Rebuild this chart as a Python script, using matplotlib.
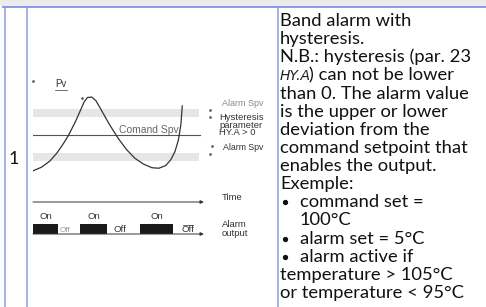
import matplotlib
matplotlib.use("Agg")
import matplotlib.pyplot as plt
from matplotlib.patches import Rectangle

# --- data -------------------------------------------------------------
# process value curve (time units 0..10, temperature-like units)
pv_time = [0.0, 0.5, 1.0, 1.4, 1.8, 2.1, 2.5, 2.8, 3.0, 3.2, 3.45, 3.7,
           4.0, 4.5, 5.0, 5.5, 6.0, 6.5, 7.0, 7.4, 7.8, 8.1, 8.35, 8.55,
           8.7, 8.78]
pv_value = [93.1, 93.8, 95.0, 96.5, 98.4, 100.0, 102.6, 104.8, 106.3, 107.2,
            107.3, 106.6, 104.9, 102.0, 99.4, 97.2, 95.5, 94.4, 93.7, 93.6,
            94.1, 95.2, 96.8, 99.0, 102.0, 105.6]
command_spv = 100
alarm_high = 105
alarm_low = 95
hysteresis = 1.6

# alarm output "on" intervals (start, end) in time units
alarm_on = [(0.0, 1.47), (2.76, 4.35), (6.29, 8.24)]
off_label_t = [1.85, 5.1, 9.1]

text_lines = [
    "Band alarm with",
    "hysteresis.",
    "N.B.: hysteresis (par. 23",
    None,  # HY.A line
    "than 0. The alarm value",
    "is the upper or lower",
    "deviation from the",
    "command setpoint that",
    "enables the output.",
    "Exemple:",
    "• command set =",
    "100°C",
    "• alarm set = 5°C",
    "• alarm active if",
    "temperature > 105°C",
    "or temperature < 95°C",
]

W, H = 486, 307
blue = "#8b9ddf"
fig = plt.figure(figsize=(W / 100, H / 100), dpi=100)

# page / table layer in pixel units
ax = fig.add_axes([0, 0, 1, 1])
ax.set_xlim(0, W)
ax.set_ylim(H, 0)
ax.axis("off")
ax.add_patch(Rectangle((0, 0), W, 6, color="#ececec", lw=0))
ax.plot([3, W], [6.5, 6.5], color=blue, lw=1.4)
for xv in [4.5, 26.5, 277.5]:
    ax.plot([xv, xv], [6.5, H], color=blue, lw=1.1)

ax.text(14, 159, "1", fontsize=13, ha="center", va="center",
        family="Lato", color="#111111")

# description column
tfont = dict(fontsize=13.2, family="Lato", color="#111111", va="baseline")
y0, dy = 26, 18.13
for i, line in enumerate(text_lines):
    y = y0 + dy * i
    if line is None:
        ax.text(280, y, "HY.A", style="italic", fontsize=10,
                family="DejaVu Sans", color="#222222", va="baseline")
        ax.text(309, y, ") can not be lower", **tfont)
    elif line.startswith("• "):
        ax.plot(285, y - 5, marker="o", ms=2.8, color="#111111")
        ax.text(300, y, line[2:], **tfont)
    elif line == "100°C":
        ax.text(300, y, line, **tfont)
    else:
        ax.text(280, y, line, **tfont)

# --- diagram: process value -------------------------------------------
px0, px1 = 33, 203
def fig_box(x0, x1, ytop, ybot):
    return [x0 / W, 1 - ybot / H, (x1 - x0) / W, (ybot - ytop) / H]

pv_ax = fig.add_axes(fig_box(px0, px1, 90, 175))
pv_ax.set_xlim(0, 10)
pv_ax.set_ylim(92.3, 108.65)
pv_ax.axis("off")
band_end = 9.76
pv_ax.add_patch(Rectangle((0, alarm_high - hysteresis), band_end, hysteresis,
                          color="#e6e6e6", lw=0))
pv_ax.add_patch(Rectangle((0, alarm_low), band_end, hysteresis,
                          color="#e6e6e6", lw=0))
pv_ax.plot([0, 9.8], [command_spv, command_spv], color="#555555", lw=0.8)
pv_ax.plot(pv_time, pv_value, color="#333333", lw=0.9)

lfont = dict(family="Liberation Sans", color="#333333")
ax.text(55, 87, "Pv", fontsize=7, **lfont)
ax.plot([55, 67], [90, 90], color="#333333", lw=0.5)
ax.text(119, 133, "Comand Spv", fontsize=7.5, family="Liberation Sans",
        color="#666666", va="baseline")
ax.text(222, 103, "Alarm Spv", fontsize=6.5, family="Liberation Sans",
        color="#8a8a8a", va="center")
ax.text(219, 125, "Hysteresis\nparameter\nHY.A > 0", fontsize=6.8,
        family="Liberation Sans", color="#333333", va="center",
        linespacing=0.85)
ax.text(223, 148, "Alarm Spv", fontsize=6.3, family="Liberation Sans",
        color="#333333", va="center")
for (dx, dyy) in [(33, 81), (82, 98), (210, 110), (210, 117),
                  (212, 146), (210, 154)]:
    ax.plot(dx, dyy, marker="o", ms=0.9, color="#555555")

# --- diagram: time and alarm output -----------------------------------
oa = fig.add_axes(fig_box(px0, px1, 190, 240))
oa.set_xlim(0, 10)
oa.set_ylim(240, 190)
oa.axis("off")
for yl in [202, 234]:
    oa.annotate("", xy=(10.05, yl), xytext=(0, yl), annotation_clip=False,
                arrowprops=dict(arrowstyle="-|>", color="#333333", lw=0.7,
                                mutation_scale=5, shrinkA=0, shrinkB=0))
for (s, e) in alarm_on:
    oa.add_patch(Rectangle((s, 224), e - s, 10, color="#1a1a1a", lw=0))
    oa.text((s + e) / 2, 219, "On", fontsize=6.8, ha="center",
            va="baseline", **lfont)
for i, t in enumerate(off_label_t):
    oa.text(t, 232, "Off", fontsize=6.8 if i else 5.8, ha="center",
            va="baseline", family="Liberation Sans",
            color="#999999" if i == 0 else "#333333")
oa.plot([8.8, 9.4], [224.5, 224.5], color="#333333", lw=0.5)

ax.text(222, 197, "Time", fontsize=6.8, va="center", **lfont)
ax.text(222, 229, "Alarm\noutput", fontsize=6.8, va="center",
        linespacing=0.9, **lfont)

fig.savefig("out.png", dpi=100)
